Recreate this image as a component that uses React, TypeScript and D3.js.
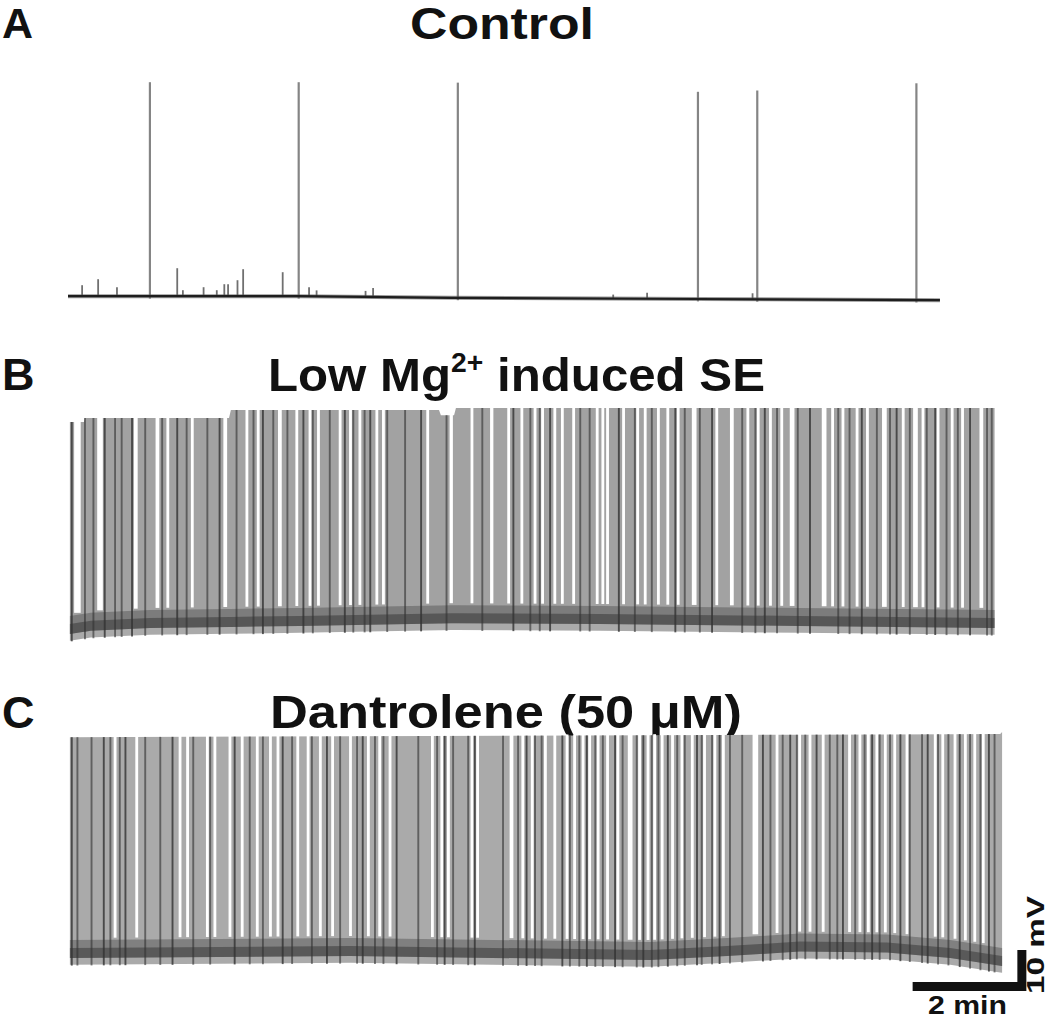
import React from "react";
import * as d3 from "d3";

// ---------- shared axis: time in seconds, potential in mV ----------
const W = 1050;
const H = 1019;

// ---------- Panel A: Control ----------
const spikesA_t = [87, 245, 414, 669, 732, 901];
const spikesA_amp = [53.5, 53.5, 53.8, 51.8, 52.2, 54.2];
const blipsA_t = [15, 32, 52, 116, 122, 144, 158, 166, 170, 180, 186, 228, 256, 264, 316, 324, 579, 615, 727];
const blipsA_amp = [2.75, 4.25, 2.25, 7, 1.5, 2.25, 1.5, 3, 3, 4, 6.75, 6, 2.25, 1.5, 1.5, 2.25, 1, 1.5, 1.5];
const baselineA: [number, number][] = [[0, 0.2], [245, 0.2], [407, -0.2], [669, -0.5], [926, -0.8]];

// ---------- Panel B: Low Mg2+ induced SE ----------
const extentB: [number, number] = [2, 984];
const topB: [number, number][] = [[2, 49.5], [17, 49.5], [18, 50.5], [171, 50.5], [173, 52.5], [394, 52.5], [396, 51.2], [410, 51.2], [412, 53], [984, 53]];
const baselineB: [number, number][] = [[2, -2], [24, -1.2], [87, -0.5], [246, 0], [407, 0.7], [565, 0.5], [777, 0], [984, -0.5]];
// white gaps between spikes: [time s, width s]
const gapsB: [number, number][] = [
  [10, 7], [34, 6], [72, 4], [95, 4], [106, 3], [132, 3], [167, 4], [190, 3], [202, 3], [225, 4],
  [243, 3], [257, 3], [266, 3], [289, 3], [300, 3], [310, 3], [328, 3], [335, 3], [382, 3], [407, 3.5],
  [429, 3], [450, 3.5], [468, 3], [482, 3], [496, 3], [504, 3], [517, 3], [525, 3], [537, 3], [562, 3],
  [568, 3], [573, 3], [590, 3], [605, 3], [613, 3], [627, 3], [637, 3], [648, 3], [665, 5], [689, 3],
  [705, 4], [722, 3], [733, 3], [746, 3], [758, 3], [769, 5], [803, 5], [812, 3], [823, 3], [838, 3],
  [849, 3], [867, 5], [887, 3], [900, 5], [908, 3], [924, 3], [939, 3], [950, 3], [970, 4],
];
// dark spike discharges
const spikesB = [
  4, 18, 27, 39, 50, 57, 68, 82, 100, 116, 126, 148, 161, 179, 197, 207, 218, 233, 250, 260,
  278, 294, 303, 315, 321, 339, 358, 375, 402, 440, 473, 491, 501, 512, 544, 554, 585, 602, 620, 645,
  655, 671, 684, 716, 730, 740, 753, 775, 788, 818, 830, 843, 859, 873, 880, 894, 912, 921, 933, 945,
  958, 976, 981,
];

// ---------- Panel C: Dantrolene (50 µM) ----------
const extentC: [number, number] = [2, 992];
const topC: [number, number][] = [[2, 53.7], [990, 54.5], [992, 55]];
const baselineC: [number, number][] = [[2, 0], [300, 0.5], [618, -0.5], [700, 0.5], [777, 1.6], [870, 1.4], [937, 0], [992, -2]];
const gapsC: [number, number][] = [
  [50, 3], [73, 3], [119, 3], [127, 3], [148, 3], [156, 3], [172, 3], [185, 3], [201, 3], [215, 3],
  [223, 3], [244, 3], [255, 3], [268, 3], [281, 3], [300, 3], [319, 3], [331, 3], [342, 3], [387, 3],
  [397, 3], [404, 3], [429, 3], [435, 3], [471, 4], [483, 3], [493, 3], [507, 3], [517, 3], [530, 3],
  [538, 3], [547, 3], [554, 3], [563, 3], [573, 3], [584, 3], [597, 5], [607, 3], [616, 3], [623, 3],
  [631, 3], [642, 3], [652, 3], [663, 3], [676, 3], [687, 3], [696, 3], [730, 6], [753, 3], [777, 3],
  [788, 3], [802, 3], [830, 3], [841, 3], [850, 3], [859, 3], [868, 3], [878, 3], [891, 3], [921, 3],
  [929, 3], [942, 3], [953, 3], [963, 3], [972, 3],
];
const spikesC = [
  4, 10, 25, 38, 45, 55, 61, 82, 98, 111, 133, 151, 177, 193, 207, 228, 238, 259, 275, 289,
  307, 313, 326, 335, 349, 372, 392, 400, 409, 425, 432, 462, 478, 487, 496, 503, 525, 533, 543, 551,
  560, 568, 581, 589, 604, 611, 620, 627, 637, 647, 655, 668, 673, 684, 692, 703, 716, 738, 746, 759,
  767, 774, 783, 795, 809, 817, 823, 836, 846, 854, 862, 873, 884, 894, 907, 913, 924, 935, 947, 958,
  969, 978, 984,
];

// scale bar: 2 min, 10 mV
const scaleBarT: [number, number] = [897, 1013];
const scaleBarMv: [number, number] = [-8.6, 0.5];

// ---------- scales ----------
const x = d3.scaleLinear().domain([0, 1000]).range([68, 68 + 1000 / 1.062]);
const MVPX = 4;
const yFor = (base: number) =>
  d3.scaleLinear().domain([-10, 60]).range([base + 10 * MVPX, base - 60 * MVPX]);

const FONT = "'Liberation Sans', Arial, Helvetica, sans-serif";

function interp(pts: [number, number][]) {
  return d3.scaleLinear().domain(pts.map((d) => d[0])).range(pts.map((d) => d[1])).clamp(true);
}

function PanelA({ base }: { base: number }) {
  const y = yFor(base);
  const bf = interp(baselineA);
  const line = d3.line<[number, number]>().x((d) => x(d[0])).y((d) => y(d[1]));
  return (
    <g>
      {spikesA_t.map((t, i) => (
        <line key={"s" + i} x1={x(t)} x2={x(t)} y1={y(bf(t) - 0.6)} y2={y(bf(t) + spikesA_amp[i])}
          stroke="#858585" strokeWidth={2.2} />
      ))}
      {blipsA_t.map((t, i) => (
        <line key={"b" + i} x1={x(t)} x2={x(t)} y1={y(bf(t))} y2={y(bf(t) + blipsA_amp[i])}
          stroke="#707070" strokeWidth={1.8} />
      ))}
      <path d={line(baselineA) || ""} fill="none" stroke="#555" strokeWidth={4} opacity={0.6} />
      <path d={line(baselineA) || ""} fill="none" stroke="#1e1e1e" strokeWidth={2.2} />
    </g>
  );
}

function DensePanel(props: {
  base: number; extent: [number, number]; top: [number, number][]; baseline: [number, number][];
  gaps: [number, number][]; spikes: number[]; fill: string;
}) {
  const { base, extent, top, baseline, gaps, spikes, fill } = props;
  const y = yFor(base);
  const tf = interp(top);
  const bf = interp(baseline);
  const ts = Array.from(new Set([extent[0], ...top.map((d) => d[0]), ...baseline.map((d) => d[0]), extent[1]]))
    .filter((t) => t >= extent[0] && t <= extent[1])
    .sort((a, b) => a - b);
  const area = (lo: (t: number) => number, hi: (t: number) => number) =>
    d3.area<number>().x((t) => x(t)).y0((t) => y(lo(t))).y1((t) => y(hi(t)))(ts) || "";
  return (
    <g>
      <path d={area((t) => bf(t) - 1.5, (t) => tf(t))} fill={fill} />
      {gaps.map(([t, w], i) => (
        <rect key={"g" + i} x={x(t - w / 2)} width={x(t + w / 2) - x(t - w / 2)}
          y={y(tf(t)) - 1} height={y(bf(t) + 3.5) - y(tf(t)) + 1} fill="#fff" />
      ))}
      <path d={area((t) => bf(t) - 3.2, (t) => bf(t) + 3)} fill="#555" opacity={0.5} />
      <path d={area((t) => bf(t) - 1.5, (t) => bf(t) + 1)} fill="#2a2a2a" opacity={0.45} />
      {spikes.map((t, i) => (
        <line key={"s" + i} x1={x(t)} x2={x(t)} y1={y(tf(t))} y2={y(bf(t) - 3.4)}
          stroke="#333" strokeWidth={1.9} opacity={i % 3 === 0 ? 0.8 : 0.62} />
      ))}
    </g>
  );
}

export default function App() {
  const yC = yFor(952);
  const titleStyle = { fontFamily: FONT, fontWeight: 700 as const, fill: "#111" };
  return (
    <svg width={W} height={H} viewBox={`0 0 ${W} ${H}`}
      style={{ position: "absolute", left: 0, top: 0, background: "#fff", display: "block" }}>
      <rect width={W} height={H} fill="#fff" />
      {/* Titles */}
      <text x={2} y={38} fontSize={43} {...titleStyle}>A</text>
      <text x={410} y={39} fontSize={44} textLength={184} lengthAdjust="spacingAndGlyphs" {...titleStyle}>Control</text>
      <text x={2} y={390} fontSize={45} {...titleStyle}>B</text>
      <text x={268} y={391} fontSize={47} textLength={497} lengthAdjust="spacingAndGlyphs" {...titleStyle}>
        Low Mg<tspan fontSize={27} dy={-19}>2+</tspan><tspan dy={19}> induced SE</tspan>
      </text>
      <text x={2} y={728} fontSize={45} {...titleStyle}>C</text>
      <text x={270} y={728} fontSize={46} textLength={472} lengthAdjust="spacingAndGlyphs" {...titleStyle}>
        Dantrolene (50 μM)
      </text>

      <PanelA base={297} />
      <DensePanel base={620} extent={extentB} top={topB} baseline={baselineB} gaps={gapsB} spikes={spikesB} fill="#a2a2a2" />
      <DensePanel base={952} extent={extentC} top={topC} baseline={baselineC} gaps={gapsC} spikes={spikesC} fill="#aaaaaa" />

      {/* Scale bar */}
      <path
        d={`M${x(scaleBarT[0])},${yC(scaleBarMv[0])}L${x(scaleBarT[1])},${yC(scaleBarMv[0])}L${x(scaleBarT[1])},${yC(scaleBarMv[1])}`}
        fill="none" stroke="#111" strokeWidth={9} strokeLinejoin="miter" strokeLinecap="butt" />
      <text x={928} y={1014} fontSize={26} textLength={79} lengthAdjust="spacingAndGlyphs" {...titleStyle}>2 min</text>
      <text transform="translate(1044,945) rotate(-90)" textAnchor="middle" fontSize={23}
        textLength={98} lengthAdjust="spacingAndGlyphs" {...titleStyle}>10 mV</text>
    </svg>
  );
}
